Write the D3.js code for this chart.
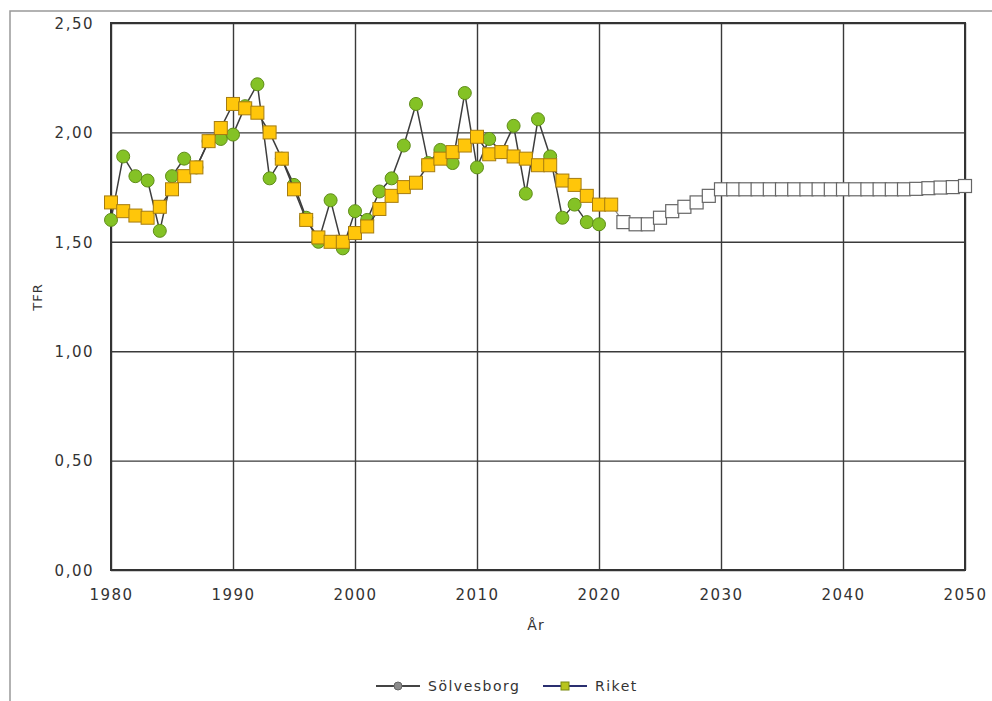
<!DOCTYPE html>
<html>
<head>
<meta charset="utf-8">
<script src="https://cdn.jsdelivr.net/npm/d3@7"></script>
<style>
html,body{margin:0;padding:0;background:#fff;}
svg{display:block;}
text{font-family:"DejaVu Sans",Verdana,sans-serif;fill:#333;}
</style>
</head>
<body>
<script>
const solvesborgYears = d3.range(1980, 2021);
const solvesborg = [1.60,1.89,1.80,1.78,1.55,1.80,1.88,1.84,1.96,1.97,
  1.99,2.12,2.22,1.79,1.88,1.76,1.61,1.50,1.69,1.47,
  1.64,1.60,1.73,1.79,1.94,2.13,1.86,1.92,1.86,2.18,
  1.84,1.97,1.91,2.03,1.72,2.06,1.89,1.61,1.67,1.59,1.58];
const riketYears = d3.range(1980, 2022);
const riket = [1.68,1.64,1.62,1.61,1.66,1.74,1.80,1.84,1.96,2.02,
  2.13,2.11,2.09,2.00,1.88,1.74,1.60,1.52,1.50,1.50,
  1.54,1.57,1.65,1.71,1.75,1.77,1.85,1.88,1.91,1.94,
  1.98,1.90,1.91,1.89,1.88,1.85,1.85,1.78,1.76,1.71,1.67,1.67];
const prognosYears = d3.range(2022, 2051);
const prognos = [1.59,1.58,1.58,1.61,1.64,1.66,1.68,1.71,1.74,1.74,
  1.74,1.74,1.74,1.74,1.74,1.74,1.74,1.74,1.74,1.74,
  1.74,1.74,1.74,1.74,1.742,1.745,1.748,1.75,1.755];
const yTicks = [0,0.5,1,1.5,2,2.5];
const xTicks = [1980,1990,2000,2010,2020,2030,2040,2050];
const legendLabels = ["Sölvesborg","Riket"];

(function(){
const W = 992, H = 701;
const svg = d3.select("body").append("svg").attr("width", W).attr("height", H);

// outer frame
svg.append("rect").attr("x",10).attr("y",11).attr("width",W).attr("height",H)
  .attr("fill","none").attr("stroke","#999").attr("stroke-width",1.5);

const pl = 111, pr = 965, pt = 23, pb = 570;
const x = d3.scaleLinear().domain([1980,2050]).range([pl,pr]);
const y = d3.scaleLinear().domain([0,2.5]).range([pb,pt]);
const fmt = v => d3.format(".2f")(v).replace(".", ",");

// grid
const gy = svg.append("g").attr("transform",`translate(${pl},0)`)
  .call(d3.axisLeft(y).tickValues(yTicks).tickSize(-(pr-pl)).tickFormat(fmt).tickPadding(17));
const gx = svg.append("g").attr("transform",`translate(0,${pb})`)
  .call(d3.axisBottom(x).tickValues(xTicks).tickSize(-(pb-pt)).tickFormat(d3.format("d")).tickPadding(22));
[gy,gx].forEach(g=>{
  g.select(".domain").remove();
  g.selectAll(".tick line").attr("stroke","#3a3a3a").attr("stroke-width",1.4);
  g.selectAll(".tick text").attr("fill","#333").style("font-size","15px")
    .style("letter-spacing","1.5px").style("font-family","'DejaVu Sans',Verdana,sans-serif");
});
gy.selectAll(".tick text").attr("dy","0.35em");
gx.selectAll(".tick text").attr("dy","0.55em");

// plot border
svg.append("rect").attr("x",pl).attr("y",pt).attr("width",pr-pl).attr("height",pb-pt)
  .attr("fill","none").attr("stroke","#333").attr("stroke-width",2);

// axis titles
svg.append("text").attr("x",536).attr("y",630).attr("text-anchor","middle")
  .style("font-size","14px").style("letter-spacing","1px").text("År");
svg.append("text").attr("transform","translate(42,297) rotate(-90)").attr("text-anchor","middle")
  .style("font-size","13px").style("letter-spacing","1px").text("TFR");

const line = d3.line().x(d=>x(d[0])).y(d=>y(d[1]));
const sData = solvesborgYears.map((yr,i)=>[yr,solvesborg[i]]);
const rData = riketYears.map((yr,i)=>[yr,riket[i]]);
const pData = [rData[rData.length-1]].concat(prognosYears.map((yr,i)=>[yr,prognos[i]]));

// Sölvesborg
svg.append("path").datum(sData).attr("d",line).attr("fill","none").attr("stroke","#3d3d3d").attr("stroke-width",1.5);
svg.append("g").selectAll("circle").data(sData).join("circle")
  .attr("cx",d=>x(d[0])).attr("cy",d=>y(d[1])).attr("r",6.5)
  .attr("fill","#84c225").attr("stroke","#5e8c18").attr("stroke-width",1);

// Riket
svg.append("path").datum(rData).attr("d",line).attr("fill","none").attr("stroke","#3d3d3d").attr("stroke-width",1.5);
svg.append("path").datum(pData).attr("d",line).attr("fill","none").attr("stroke","#888").attr("stroke-width",1.2);
const sq = 13;
svg.append("g").selectAll("rect").data(rData).join("rect")
  .attr("x",d=>x(d[0])-sq/2).attr("y",d=>y(d[1])-sq/2).attr("width",sq).attr("height",sq)
  .attr("fill","#ffc60a").attr("stroke","#a67c10").attr("stroke-width",1);
svg.append("g").selectAll("rect").data(pData.slice(1)).join("rect")
  .attr("x",d=>x(d[0])-sq/2).attr("y",d=>y(d[1])-sq/2).attr("width",sq).attr("height",sq)
  .attr("fill","#fff").attr("stroke","#666").attr("stroke-width",1.2);

// legend
const lg = svg.append("g");
const l1 = lg.append("g").attr("transform","translate(376,686)");
l1.append("line").attr("x1",0).attr("x2",44).attr("stroke","#444").attr("stroke-width",2);
l1.append("circle").attr("cx",22).attr("r",4).attr("fill","#8d8d8d").attr("stroke","#666");
l1.append("text").attr("x",52).attr("dy","0.35em").style("font-size","14px").style("letter-spacing","1.5px").text(legendLabels[0]);
const l2 = lg.append("g").attr("transform","translate(543,686)");
l2.append("line").attr("x1",0).attr("x2",44).attr("stroke","#2a2f70").attr("stroke-width",2);
l2.append("rect").attr("x",18).attr("y",-4).attr("width",8).attr("height",8).attr("fill","#b8c41c").attr("stroke","#7a8a10");
l2.append("text").attr("x",52).attr("dy","0.35em").style("font-size","14px").style("letter-spacing","1.5px").text(legendLabels[1]);
})();
</script>
</body>
</html>
